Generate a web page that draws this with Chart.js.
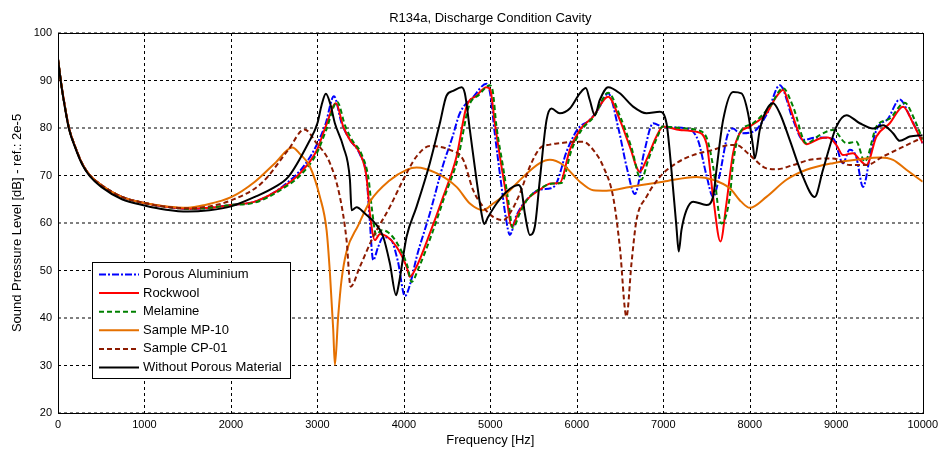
<!DOCTYPE html>
<html>
<head>
<meta charset="utf-8">
<script src="https://cdn.jsdelivr.net/npm/chart.js@4"></script>
<style>
  body { margin: 0; background: #fff; }
  #wrap { width: 943px; height: 449px; position: relative; }
</style>
</head>
<body>
<div id="wrap"><canvas id="chart"></canvas></div>
<script>
// axis ticks
const xTicks = [0, 1000, 2000, 3000, 4000, 5000, 6000, 7000, 8000, 9000, 10000];
const yTicks = [20, 30, 40, 50, 60, 70, 80, 90, 100];

// Porous Aluminium
const freqBlue = [0, 40, 80, 127, 200, 280, 370, 500, 740, 1000, 1250, 1500, 1750, 2000, 2277, 2605, 2894, 3090, 3191, 3280, 3376, 3491, 3568, 3600, 3645, 3703, 3760, 3850, 3930, 4012, 4070, 4150, 4300, 4450, 4560, 4647, 4800, 4956, 5000, 5050, 5120, 5180, 5225, 5300, 5418, 5572, 5700, 5765, 5881, 6012, 6150, 6250, 6362, 6480, 6580, 6671, 6780, 6882, 7000, 7268, 7400, 7500, 7576, 7650, 7749, 7807, 7884, 8038, 8200, 8347, 8501, 8616, 8770, 8963, 9078, 9155, 9230, 9310, 9400, 9465, 9600, 9734, 9850, 10000];
const splBlue = [94.5, 89, 84.5, 80, 76, 72.5, 70, 68, 65.5, 64.2, 63.4, 63, 63.2, 63.8, 64.5, 67.8, 73.3, 80.6, 86.7, 81, 77.5, 74.5, 69.7, 62, 52.2, 55, 57, 56.5, 52, 44.6, 47, 53, 62, 72, 78, 83.1, 86.5, 89.3, 87, 79, 69, 61, 57.5, 61.5, 64.8, 67, 67.3, 68.4, 75, 79.8, 81.7, 84, 87.3, 80, 71.5, 66.1, 75, 81, 80.2, 79.9, 77.5, 70, 65.5, 70, 78.9, 79.9, 78.9, 79.2, 83, 89, 81.7, 77.5, 78, 77.8, 72.6, 75.4, 74, 67.6, 75, 79.6, 82, 86, 82.5, 76.8];

// Rockwool
const freqRed = [0, 40, 80, 127, 200, 280, 370, 500, 740, 1000, 1250, 1500, 1750, 2000, 2277, 2605, 2800, 2990, 3100, 3214, 3299, 3376, 3491, 3568, 3607, 3665, 3723, 3800, 3915, 4031, 4069, 4146, 4300, 4454, 4609, 4724, 4840, 4956, 5000, 5052, 5129, 5187, 5245, 5322, 5418, 5572, 5700, 5803, 5919, 6035, 6189, 6362, 6497, 6613, 6728, 6805, 6921, 6998, 7191, 7383, 7499, 7576, 7661, 7730, 7807, 7884, 8000, 8193, 8308, 8385, 8462, 8578, 8655, 8809, 8905, 9002, 9078, 9194, 9272, 9349, 9465, 9619, 9773, 9888, 10000];
const splRed = [94.5, 89, 84.5, 80, 76, 72.5, 70, 68, 65.5, 64.2, 63.4, 63, 63.2, 63.8, 64.5, 67.6, 70.5, 75.2, 80.5, 85.2, 80.3, 77.5, 74.7, 69.7, 62, 56.4, 57.7, 57.2, 55, 50.8, 48.7, 50.8, 57.8, 65.5, 74, 84.5, 86.8, 88.6, 88, 81, 71.9, 65.5, 59.2, 62, 64.8, 67, 68.3, 68.4, 75.4, 79.6, 82.4, 86.6, 81.7, 76.1, 70.8, 73.3, 78.2, 80.3, 79.6, 79.2, 76.8, 65.5, 56.1, 64.1, 74.7, 78.9, 80.3, 83.1, 86.6, 88, 84.5, 78.5, 76.6, 77.8, 78, 76.4, 74.3, 74.7, 73.3, 72.2, 78.2, 81, 84.5, 81, 76.8];

// Melamine
const freqGreen = [0, 40, 80, 127, 200, 280, 370, 500, 740, 1000, 1250, 1500, 1750, 2000, 2277, 2605, 2800, 2990, 3100, 3229, 3320, 3400, 3510, 3590, 3630, 3680, 3740, 3820, 3930, 4040, 4089, 4170, 4320, 4470, 4630, 4750, 4870, 4994, 5030, 5070, 5150, 5205, 5260, 5340, 5430, 5580, 5720, 5820, 5940, 6055, 6200, 6362, 6510, 6630, 6744, 6830, 6940, 6990, 7200, 7383, 7500, 7576, 7672, 7769, 7807, 7884, 8038, 8231, 8385, 8501, 8655, 8809, 8963, 9118, 9233, 9329, 9465, 9620, 9792, 9900, 10000];
const splGreen = [94.5, 89, 84.5, 80, 76, 72.5, 70, 68, 65.5, 64.2, 63.4, 63, 63.2, 63.8, 64.3, 67.3, 70, 74.6, 79.5, 85.5, 80.5, 77.5, 74.5, 69.5, 63, 57.5, 58.5, 58, 55.5, 51, 47.6, 50.5, 57.5, 65.5, 74, 84.5, 87, 89, 87.5, 80.5, 71.5, 65, 59, 62, 65, 67.3, 68.3, 68.4, 75.4, 79.6, 82.4, 87.4, 82, 76, 69.1, 73.5, 78.5, 80.3, 80, 79.6, 78, 71.9, 59.9, 65.5, 72.6, 78.9, 81, 84.5, 88.4, 84.5, 76.8, 78.5, 79.6, 76.8, 77.1, 72.9, 80.3, 82, 85.3, 82, 77.5];

// Sample MP-10
const freqOrange = [0, 40, 80, 127, 200, 280, 370, 500, 740, 1000, 1250, 1500, 1700, 2008, 2277, 2509, 2710, 2800, 2913, 3029, 3106, 3145, 3183, 3202, 3240, 3279, 3337, 3472, 3607, 3838, 4031, 4146, 4377, 4609, 4763, 4917, 5032, 5187, 5379, 5572, 5688, 5842, 6035, 6189, 6343, 6613, 6998, 7383, 7576, 7769, 7900, 8000, 8193, 8424, 8655, 8963, 9272, 9503, 9657, 9811, 10000];
const splOrange = [94.5, 89, 84.5, 80, 76, 72.5, 70, 68, 65.5, 64.2, 63.5, 63.2, 63.8, 65.5, 68.7, 72.6, 75.9, 74.5, 71.9, 65.5, 58.5, 49.4, 37.5, 30.1, 40.3, 48, 54, 59.5, 64.5, 69, 71.2, 71.7, 70.5, 67.6, 64.1, 62.7, 64.1, 66.2, 69.7, 72.6, 73.3, 72.2, 68.7, 66.9, 66.8, 67.6, 68.7, 69.7, 69.1, 67.3, 64.5, 63.2, 65.5, 69.1, 71.2, 72.6, 73.4, 73.8, 73.3, 71.2, 68.7];

// Sample CP-01
const freqCp = [0, 40, 80, 127, 200, 280, 370, 500, 740, 1000, 1250, 1500, 1750, 2008, 2355, 2663, 2850, 2990, 3145, 3260, 3337, 3384, 3491, 3645, 3838, 3992, 4146, 4300, 4532, 4686, 4801, 4917, 5032, 5148, 5225, 5341, 5457, 5572, 5688, 5803, 5958, 6073, 6189, 6305, 6420, 6497, 6574, 6632, 6690, 6805, 6960, 7152, 7345, 7576, 7769, 7846, 8000, 8193, 8308, 8501, 8694, 8963, 9155, 9349, 9541, 9734, 10000];
const splCp = [94.5, 89, 84.5, 80, 76, 72.5, 70, 68, 65.5, 64.2, 63.4, 63.1, 63.5, 64.8, 68.4, 75.4, 79.7, 76.8, 72.6, 65.5, 56.4, 46.6, 50.8, 57.1, 63.4, 69.1, 74, 76.2, 75.4, 73.3, 66.9, 63.4, 61.3, 60.6, 62, 66.2, 71.9, 75.7, 76.5, 76.8, 77.1, 77.1, 75.4, 71.9, 65.5, 55, 40.3, 51.5, 60.6, 65.5, 69.7, 72.6, 74.3, 75.4, 76.4, 76.4, 74.3, 71.5, 71.3, 72.2, 73.3, 73.6, 72.2, 72.2, 74, 75.7, 78];

// Without Porous Material
const freqBlack = [0, 40, 80, 127, 200, 280, 370, 500, 740, 1000, 1250, 1500, 1750, 2000, 2277, 2500, 2663, 2894, 3000, 3048, 3098, 3150, 3202, 3299, 3376, 3395, 3453, 3549, 3665, 3761, 3838, 3910, 3940, 4031, 4146, 4300, 4416, 4493, 4570, 4667, 4705, 4763, 4840, 4898, 4928, 4975, 5072, 5187, 5322, 5360, 5399, 5457, 5514, 5572, 5650, 5707, 5803, 5919, 6035, 6104, 6150, 6208, 6266, 6362, 6497, 6651, 6805, 6960, 7037, 7094, 7152, 7179, 7210, 7268, 7345, 7499, 7576, 7615, 7692, 7807, 7904, 7980, 8038, 8058, 8116, 8193, 8270, 8347, 8462, 8616, 8751, 8847, 9002, 9118, 9272, 9426, 9541, 9657, 9734, 9850, 10000];
const splBlack = [94.5, 88.8, 84.3, 79.8, 75.8, 72.3, 69.8, 67.6, 65, 63.7, 62.8, 62.4, 62.7, 63.5, 65.5, 67.5, 69.7, 76.8, 81, 84.8, 87.2, 85, 81, 76.1, 69.1, 62.7, 63.3, 62, 60, 57.1, 51.5, 44.8, 47, 57.1, 63.4, 72.6, 81, 86.8, 87.8, 88.6, 87.3, 79.6, 69.1, 62, 59.8, 61.3, 64.1, 66.6, 68, 67, 62, 57.5, 59.2, 69.1, 81.7, 84.1, 83.1, 84.1, 87.3, 88.4, 85.9, 82.7, 85.9, 88.6, 87.3, 84.5, 83.1, 83.4, 81, 71.2, 59.2, 54, 58.5, 62.7, 64.5, 63.8, 65.5, 71.2, 81.7, 87.6, 87.3, 83.1, 76.1, 73.6, 79.6, 83.8, 85.2, 83.1, 77.5, 69.7, 65.5, 71.2, 80.3, 82.7, 81, 79.9, 80.6, 78.9, 77.3, 78.2, 78.5];

const toPoints = (xs, ys) => xs.map((x, i) => ({ x: x, y: ys[i] }));

const series = [
  { label: "Porous Aluminium", xs: freqBlue, ys: splBlue, color: "#0000ff", dash: [7, 2, 2, 2], order: 6 },
  { label: "Rockwool", xs: freqRed, ys: splRed, color: "#ff0000", dash: [], order: 5 },
  { label: "Melamine", xs: freqGreen, ys: splGreen, color: "#008000", dash: [5, 3], order: 4 },
  { label: "Sample MP-10", xs: freqOrange, ys: splOrange, color: "#e57000", dash: [], order: 3 },
  { label: "Sample CP-01", xs: freqCp, ys: splCp, color: "#8c1a00", dash: [5, 3], order: 2 },
  { label: "Without Porous Material", xs: freqBlack, ys: splBlack, color: "#000000", dash: [], order: 1 },
];

const FONT = "'Liberation Sans', Arial, sans-serif";

// grid, box, titles and legend in MATLAB style
const matlabLook = {
  id: "matlabLook",
  beforeDatasetsDraw(chart) {
    const { ctx, chartArea: a, scales } = chart;
    ctx.save();
    ctx.strokeStyle = "#000";
    ctx.lineWidth = 1;
    ctx.setLineDash([3, 3]);
    xTicks.forEach((v) => {
      const px = Math.round(scales.x.getPixelForValue(v)) + 0.5;
      ctx.beginPath();
      ctx.moveTo(px, a.top);
      ctx.lineTo(px, a.bottom);
      ctx.stroke();
    });
    yTicks.forEach((v) => {
      const py = scales.y.getPixelForValue(v);
      ctx.beginPath();
      ctx.moveTo(a.left, py);
      ctx.lineTo(a.right, py);
      ctx.stroke();
    });
    ctx.restore();
  },
  afterDraw(chart) {
    const { ctx, chartArea: a } = chart;
    ctx.save();
    // plot box
    ctx.strokeStyle = "#000";
    ctx.lineWidth = 1;
    ctx.setLineDash([]);
    ctx.strokeRect(Math.round(a.left) + 0.5, Math.round(a.top) + 0.5,
      Math.round(a.right - a.left), Math.round(a.bottom - a.top));

    // titles
    ctx.fillStyle = "#000";
    ctx.font = "13px " + FONT;
    ctx.textAlign = "center";
    ctx.textBaseline = "middle";
    ctx.fillText("R134a, Discharge Condition Cavity", (a.left + a.right) / 2, 18);
    ctx.fillText("Frequency [Hz]", (a.left + a.right) / 2, 440);
    ctx.save();
    ctx.translate(17, (a.top + a.bottom) / 2);
    ctx.rotate(-Math.PI / 2);
    ctx.fillText("Sound Pressure Level [dB] - ref.: 2e-5", 0, 0);
    ctx.restore();

    // legend
    const lx = 92, ly = 262, lw = 198, lh = 116;
    ctx.fillStyle = "#fff";
    ctx.fillRect(lx, ly, lw, lh);
    ctx.strokeStyle = "#000";
    ctx.strokeRect(lx + 0.5, ly + 0.5, lw, lh);
    ctx.font = "13px " + FONT;
    ctx.textAlign = "left";
    series.forEach((s, i) => {
      const yy = 274.5 + i * 18.6;
      ctx.strokeStyle = s.color;
      ctx.lineWidth = 2;
      ctx.setLineDash(s.dash);
      ctx.beginPath();
      ctx.moveTo(99, yy);
      ctx.lineTo(139, yy);
      ctx.stroke();
      ctx.setLineDash([]);
      ctx.fillStyle = "#000";
      ctx.fillText(s.label, 143, yy);
    });
    ctx.restore();
  },
};

new Chart(document.getElementById("chart"), {
  type: "line",
  data: {
    datasets: series.map((s) => ({
      label: s.label,
      data: toPoints(s.xs, s.ys),
      borderColor: s.color,
      borderWidth: 2,
      borderDash: s.dash,
      pointRadius: 0,
      fill: false,
      cubicInterpolationMode: "monotone",
      order: s.order,
    })),
  },
  options: {
    responsive: true,
    maintainAspectRatio: false,
    animation: false,
    layout: { padding: { top: 33, right: 20, left: 0, bottom: 0 } },
    plugins: { legend: { display: false }, tooltip: { enabled: false }, title: { display: false } },
    scales: {
      x: {
        type: "linear",
        min: 0,
        max: 10000,
        afterBuildTicks: (scale) => { scale.ticks = xTicks.map((v) => ({ value: v })); },
        afterFit: (scale) => { scale.height = 36; },
        grid: { display: false, drawTicks: false },
        border: { display: false },
        ticks: { color: "#000", font: { family: FONT, size: 11 }, padding: 5, maxRotation: 0, callback: (v) => String(v) },
      },
      y: {
        type: "linear",
        min: 20,
        max: 100,
        afterBuildTicks: (scale) => { scale.ticks = yTicks.map((v) => ({ value: v })); },
        afterFit: (scale) => { scale.width = 58; },
        grid: { display: false, drawTicks: false },
        border: { display: false },
        ticks: { color: "#000", font: { family: FONT, size: 11 }, padding: 6, callback: (v) => String(v) },
      },
    },
  },
  plugins: [matlabLook],
});
</script>
</body>
</html>
